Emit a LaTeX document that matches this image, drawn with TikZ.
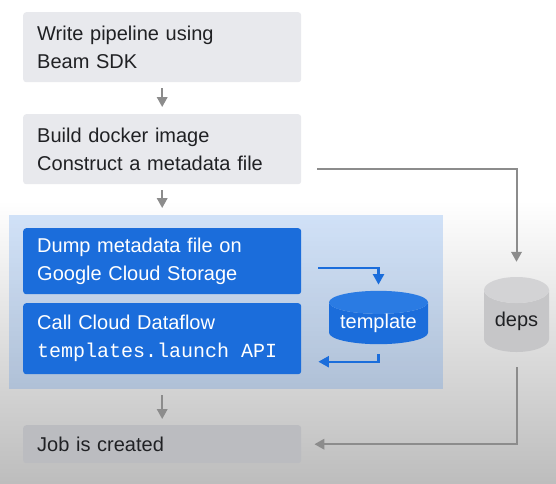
\documentclass[tikz,border=0pt]{standalone}
\usepackage{fontspec}
\setmainfont{Liberation Sans}
\setmonofont{Liberation Mono}
\usetikzlibrary{arrows.meta,shapes.geometric,calc}
\definecolor{boxgrey}{HTML}{E8E9ED}
\definecolor{jobgrey}{HTML}{BBBCC0}
\definecolor{gcpblue}{HTML}{1B6DDB}
\definecolor{blueend}{HTML}{2A7BE3}
\definecolor{panelblue}{HTML}{1A73E8}
\definecolor{arrowgrey}{HTML}{8C8C8C}
\definecolor{inkgrey}{HTML}{202124}
\definecolor{depsbody}{HTML}{C6C6C8}
\definecolor{depsend}{HTML}{D3D3D5}
\definecolor{bgdark}{HTML}{BDBDBD}
\tikzset{
    stage/.style = {
        shape=rectangle,
        rounded corners=3pt,
        anchor=north west,
        fill=boxgrey,
        text=inkgrey,
        align=left,
        text width=250pt,
        inner xsep=14pt,
        minimum height=70pt},
    cloudstage/.style = {
        stage,
        fill=gcpblue,
        text=white},
    jobstage/.style = {
        stage,
        fill=jobgrey,
        minimum height=38pt},
    store/.style = {
        cylinder,
        shape border rotate=90,
        cylinder uses custom fill,
        anchor=shape center,
        inner sep=0pt},
    flow/.style = {
        draw=arrowgrey,
        line width=2pt,
        -{Triangle[width=10.5pt,length=10pt]}},
    bounce/.style = {
        draw=gcpblue,
        line width=2.3pt,
        -{Triangle[width=11pt,length=10.5pt]}}
}

\begin{document}
\begin{tikzpicture}[
    x                 = 1pt,
    y                 = -1pt,
    every node/.style = {font=\fontsize{20}{28}\selectfont}
]

\useasboundingbox (0,0) rectangle (556,483);
\fill [white] (0,0) rectangle (556,483);
\shade [top color=white, bottom color=bgdark] (0,200) rectangle (556,483);

\node [stage] (write) at (23,12) {Write pipeline using\\Beam SDK};
\node [stage] (build) at (23,114) {Build docker image\\Construct a metadata file};
\node [anchor=north west, fill=panelblue, fill opacity=0.19,
       minimum width=434pt, minimum height=174pt, inner sep=0pt] (panel) at (9,215) {};
\node [cloudstage, minimum height=66pt] (dump) at (23,228) {Dump metadata file on\\Google Cloud Storage};
\node [cloudstage, minimum height=71pt] (call) at (23,303) {Call Cloud Dataflow\\\texttt{templates.launch\hspace{12pt}API}};
\node [jobstage] (job) at (23,425) {Job is created};

\node [store, minimum width=99pt, minimum height=49pt, aspect=0.3,
       cylinder body fill=gcpblue, cylinder end fill=blueend, text=white] (template) at (378.5,317.5) {template};
\node [store, minimum width=65pt, minimum height=75pt, aspect=0.6,
       cylinder body fill=depsbody, cylinder end fill=depsend, text=inkgrey] (deps) at (516.5,314.5) {deps};

\draw [flow, shorten <=6pt, shorten >=7pt] (write) -- (build);
\draw [flow, shorten <=6pt, shorten >=7pt] (build.south) -- (build.south |- panel.north);
\draw [flow, shorten <=6pt, shorten >=6pt] (job.north |- panel.south) -- (job.north);
\draw [flow, shorten >=15pt] ([xshift=16pt,yshift=-20pt]build.east) -| (deps);
\draw [flow, shorten <=15pt, shorten >=13pt] (deps) |- (job);

\draw [bounce, shorten >=6pt] ([xshift=17pt,yshift=-7pt]dump.east) -| (template);
\draw [bounce, shorten <=10pt] (template) |- ([xshift=17pt,yshift=-23pt]call.east);

\end{tikzpicture}
\end{document}
